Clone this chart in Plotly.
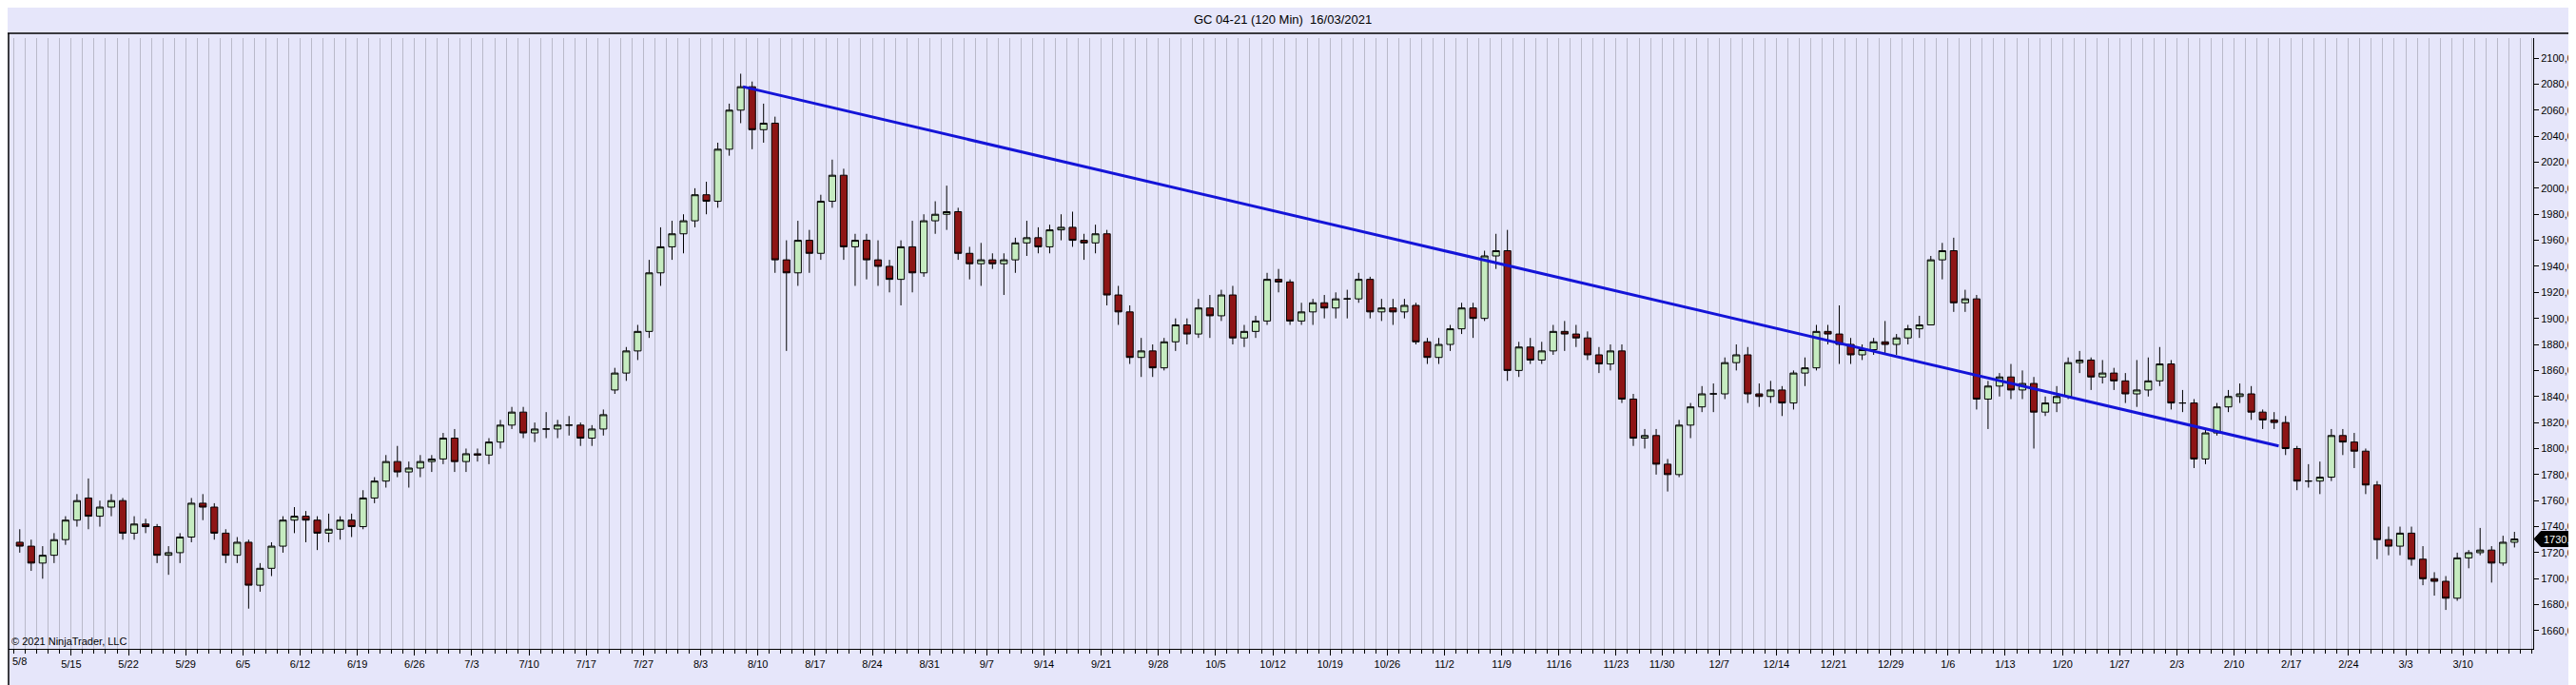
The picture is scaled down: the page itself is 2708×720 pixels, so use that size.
import plotly.graph_objects as go
import numpy as np

# ---------------- data (daily OHLC) ----------------
opens = [1728,1725,1712,1718,1730,1745,1762,1748,1755,1760,1735,1742,1740,1718,1720,1732,1758,1755,1735,1718,
         1728,1695,1708,1725,1745,1748,1745,1735,1738,1745,1740,1762,1775,1790,1782,1785,1790,1792,1808,1790,
         1796,1795,1805,1818,1828,1812,1815,1815,1818,1818,1808,1815,1845,1858,1875,1890,1935,1955,1965,1975,
         1995,1990,2030,2060,2078,2045,2050,1945,1935,1960,1950,1990,2010,1955,1960,1945,1940,1930,1955,1935,
         1975,1980,1982,1950,1942,1945,1942,1945,1958,1962,1955,1968,1970,1960,1958,1965,1918,1905,1870,1875,
         1862,1882,1895,1888,1908,1902,1918,1885,1890,1898,1930,1928,1898,1905,1912,1908,1915,1915,1930,1905,
         1908,1905,1910,1882,1870,1880,1892,1908,1900,1948,1952,1860,1878,1868,1875,1890,1888,1885,1872,1865,
         1875,1838,1808,1810,1788,1780,1818,1832,1842,1842,1866,1872,1842,1840,1845,1835,1858,1862,1890,1888,
         1880,1872,1876,1882,1880,1885,1892,1895,1945,1952,1912,1915,1838,1848,1855,1845,1850,1828,1835,1840,
         1866,1868,1855,1858,1852,1842,1845,1852,1865,1835,1835,1792,1812,1832,1840,1842,1828,1822,1820,1800,
         1775,1775,1778,1810,1805,1798,1772,1730,1725,1735,1715,1700,1698,1685,1716,1720,1722,1712,1728]
highs = [1738,1730,1725,1735,1748,1765,1777,1760,1765,1762,1748,1746,1742,1725,1735,1762,1765,1758,1738,1732,
         1730,1712,1728,1748,1755,1752,1748,1750,1748,1750,1768,1778,1795,1802,1790,1795,1795,1812,1815,1800,
         1800,1808,1822,1832,1832,1820,1828,1822,1825,1820,1818,1830,1862,1878,1895,1945,1970,1975,1980,2000,
         2005,2035,2065,2088,2082,2065,2055,1960,1975,1968,1995,2022,2015,1965,1965,1960,1945,1960,1975,1980,
         1990,2002,1985,1955,1958,1950,1950,1962,1975,1970,1972,1980,1982,1965,1972,1968,1925,1910,1885,1880,
         1885,1900,1900,1915,1918,1922,1925,1895,1902,1935,1938,1930,1912,1915,1918,1920,1922,1935,1932,1915,
         1915,1915,1912,1885,1885,1895,1912,1912,1952,1965,1968,1882,1885,1882,1895,1898,1895,1890,1878,1880,
         1880,1842,1815,1815,1792,1822,1835,1848,1850,1870,1880,1878,1850,1852,1848,1860,1870,1895,1895,1910,
         1885,1880,1885,1898,1888,1895,1902,1948,1958,1962,1922,1918,1852,1858,1865,1860,1855,1840,1848,1870,
         1875,1870,1868,1862,1858,1868,1870,1878,1868,1845,1838,1815,1835,1845,1850,1848,1830,1828,1825,1802,
         1788,1790,1815,1815,1812,1800,1775,1740,1740,1740,1725,1705,1702,1720,1722,1739,1725,1733,1736]
lows = [1720,1706,1700,1712,1726,1740,1738,1740,1748,1730,1730,1735,1712,1703,1712,1728,1745,1730,1712,1712,
        1677,1690,1702,1720,1735,1728,1722,1728,1730,1732,1738,1758,1770,1778,1770,1778,1782,1788,1782,1782,
        1790,1788,1800,1815,1808,1805,1808,1808,1810,1802,1802,1810,1842,1852,1868,1885,1925,1945,1950,1970,
        1980,1985,2025,2050,2030,2035,1935,1875,1925,1935,1945,1985,1945,1925,1930,1925,1920,1910,1920,1932,
        1965,1968,1945,1930,1925,1938,1918,1935,1948,1950,1950,1960,1955,1945,1950,1910,1895,1865,1855,1855,
        1860,1875,1880,1885,1885,1898,1880,1878,1885,1895,1920,1895,1895,1895,1900,1900,1900,1912,1900,1898,
        1895,1900,1880,1865,1865,1875,1888,1885,1898,1938,1852,1855,1865,1865,1872,1875,1878,1868,1858,1860,
        1835,1802,1800,1780,1767,1778,1808,1828,1828,1838,1860,1835,1832,1835,1825,1830,1848,1860,1880,1865,
        1865,1868,1872,1872,1872,1880,1885,1895,1930,1905,1905,1830,1815,1840,1838,1838,1800,1825,1828,1838,
        1858,1845,1850,1845,1835,1832,1840,1848,1830,1828,1785,1788,1810,1828,1835,1822,1815,1815,1795,1768,
        1770,1765,1775,1795,1785,1765,1715,1718,1718,1710,1695,1687,1676,1683,1708,1718,1697,1710,1724]
closes = [1725,1712,1718,1730,1745,1760,1748,1755,1760,1735,1742,1740,1718,1720,1732,1758,1755,1735,1718,1728,
          1695,1708,1725,1745,1748,1745,1735,1738,1745,1740,1762,1775,1790,1782,1785,1790,1792,1808,1790,1796,
          1795,1805,1818,1828,1812,1815,1815,1818,1818,1808,1815,1826,1858,1875,1890,1935,1955,1965,1975,1995,
          1990,2030,2060,2078,2045,2050,1945,1935,1960,1950,1990,2010,1955,1960,1945,1940,1930,1955,1935,1975,
          1980,1982,1950,1942,1945,1942,1945,1958,1962,1955,1968,1970,1960,1958,1965,1918,1905,1870,1875,1862,
          1882,1895,1888,1908,1902,1918,1885,1890,1898,1930,1928,1898,1905,1912,1908,1915,1915,1930,1905,1908,
          1905,1910,1882,1870,1880,1892,1908,1900,1948,1952,1860,1878,1868,1875,1890,1888,1885,1872,1865,1875,
          1838,1808,1810,1788,1780,1818,1832,1842,1842,1866,1872,1842,1840,1845,1835,1858,1862,1890,1888,1880,
          1872,1876,1882,1880,1885,1892,1895,1945,1952,1912,1915,1838,1848,1855,1845,1850,1828,1835,1840,1866,
          1868,1855,1858,1852,1842,1845,1852,1865,1835,1835,1792,1812,1832,1840,1842,1828,1822,1820,1800,1775,
          1775,1778,1810,1805,1798,1772,1730,1725,1735,1715,1700,1698,1685,1716,1720,1722,1712,1728,1730.5]

date_tick_pos = [0, 5, 10, 15, 20, 25, 30, 35, 40, 45, 50, 55, 60, 65, 70, 75, 80, 85, 90, 95, 100, 105,
                 110, 115, 120, 125, 130, 135, 140, 144, 149, 154, 159, 164, 169, 174, 179, 184, 189, 194,
                 199, 204, 209, 214]
date_tick_text = ["5/8", "5/15", "5/22", "5/29", "6/5", "6/12", "6/19", "6/26", "7/3", "7/10", "7/17",
                  "7/27", "8/3", "8/10", "8/17", "8/24", "8/31", "9/7", "9/14", "9/21", "9/28", "10/5",
                  "10/12", "10/19", "10/26", "11/2", "11/9", "11/16", "11/23", "11/30", "12/7", "12/14",
                  "12/21", "12/29", "1/6", "1/13", "1/20", "1/27", "2/3", "2/10", "2/17", "2/24", "3/3", "3/10"]
price_ticks = list(range(1660, 2101, 20))
trend_x = [63.7, 197.9]
trend_y = [2078.0, 1802.0]
last_price = 1730.5
title_text = "GC 04-21 (120 Min)\u00a0\u00a016/03/2021"
copyright_text = "© 2021 NinjaTrader, LLC"

# ---------------- figure ----------------
W, H = 2708, 720
ML, MR, MT, MB = 1, 53, 32, 46
PW, PH = W - ML - MR, H - MT - MB
BG = "#E6E6FA"
FONT = "Arial, 'Liberation Sans', sans-serif"
X0PX, DAYPX = 6.75, 12.03
Y_RANGE = [1646.1, 2115.4]


def px_x(px):
    return (px - ML) / PW


def px_y(py):
    return 1 - (py - MT) / PH


def price_to_paper(p):
    return (p - Y_RANGE[0]) / (Y_RANGE[1] - Y_RANGE[0])


xs = np.arange(len(closes)) + 0.5

fig = go.Figure()
fig.add_trace(go.Candlestick(
    x=xs, open=opens, high=highs, low=lows, close=closes,
    increasing=dict(line=dict(color="#000000", width=1), fillcolor="#c6ecc0"),
    decreasing=dict(line=dict(color="#000000", width=1), fillcolor="#8e1515"),
    whiskerwidth=0, hoverinfo="skip", showlegend=False,
))
fig.add_trace(go.Scatter(
    x=trend_x, y=trend_y, mode="lines",
    line=dict(color="#1414d8", width=3), hoverinfo="skip", showlegend=False,
))

# last-price marker (black arrow label on the price axis)
yc = price_to_paper(last_price)
hh = 8 / PH
mx0, mx1, mx2 = px_x(2656), px_x(2663), px_x(2705)
marker_path = (f"M {mx0},{yc} L {mx1},{yc + hh} L {mx2},{yc + hh} "
               f"L {mx2},{yc - hh} L {mx1},{yc - hh} Z")

shapes = [
    dict(type="line", xref="paper", yref="paper", x0=px_x(0), x1=px_x(W), y0=px_y(27), y1=px_y(27),
         line=dict(color="#000000", width=1.5)),
    dict(type="line", xref="paper", yref="paper", x0=px_x(0), x1=px_x(W), y0=px_y(718.5), y1=px_y(718.5),
         line=dict(color="#000000", width=1.5)),
    dict(type="line", xref="paper", yref="paper", x0=px_x(1), x1=px_x(1), y0=px_y(27), y1=px_y(718.5),
         line=dict(color="#000000", width=1.5)),
    dict(type="path", xref="paper", yref="paper", path=marker_path,
         fillcolor="#000000", line=dict(color="#000000", width=1)),
]

annotations = [
    dict(text=title_text, xref="paper", yref="paper", x=px_x(1340), y=px_y(13),
         xanchor="center", yanchor="middle", showarrow=False,
         font=dict(family=FONT, size=13, color="#000000")),
    dict(text=copyright_text, xref="paper", yref="paper", x=px_x(2), y=px_y(666),
         xanchor="left", yanchor="middle", showarrow=False,
         font=dict(family=FONT, size=11, color="#000000")),
    # first date label sits against the left frame, so it is placed explicitly
    dict(text=date_tick_text[0], xref="x", yref="paper", x=date_tick_pos[0], y=px_y(687),
         xanchor="left", yanchor="middle", showarrow=False, xshift=-4,
         font=dict(family=FONT, size=11, color="#000000")),
    dict(text=f"{last_price:.1f}".replace(".", ","), xref="paper", yref="paper",
         x=px_x(2702), y=yc, xanchor="right", yanchor="middle", showarrow=False,
         font=dict(family=FONT, size=11, color="#ffffff")),
]

fig.update_layout(
    width=W, height=H,
    margin=dict(l=ML, r=MR, t=MT, b=MB, pad=0),
    paper_bgcolor=BG, plot_bgcolor=BG,
    font=dict(family=FONT, size=11, color="#000000"),
    showlegend=False,
    boxgap=0.15,
    shapes=shapes,
    annotations=annotations,
    xaxis=dict(
        range=[(ML - X0PX) / DAYPX, (W - MR - X0PX) / DAYPX],
        tickmode="array", tickvals=date_tick_pos[1:], ticktext=date_tick_text[1:],
        ticks="outside", ticklen=6, tickcolor="#000000", tickwidth=1,
        showline=True, linecolor="#000000", linewidth=1,
        showgrid=False, zeroline=False,
        minor=dict(tick0=0, dtick=1, showgrid=True, gridcolor="#b9b9c9", gridwidth=1,
                   ticks="outside", ticklen=4, tickcolor="#000000"),
        rangeslider=dict(visible=False),
        tickfont=dict(family=FONT, size=11, color="#000000"),
        fixedrange=True,
    ),
    yaxis=dict(
        side="right", range=Y_RANGE,
        tickmode="array", tickvals=price_ticks,
        ticktext=[f"{v},0" for v in price_ticks],
        ticks="outside", ticklen=5, tickcolor="#000000", tickwidth=1,
        showline=True, linecolor="#000000", linewidth=1,
        showgrid=False, zeroline=False,
        tickfont=dict(family=FONT, size=11, color="#000000"),
        fixedrange=True,
    ),
)

fig.write_html("out.html")
